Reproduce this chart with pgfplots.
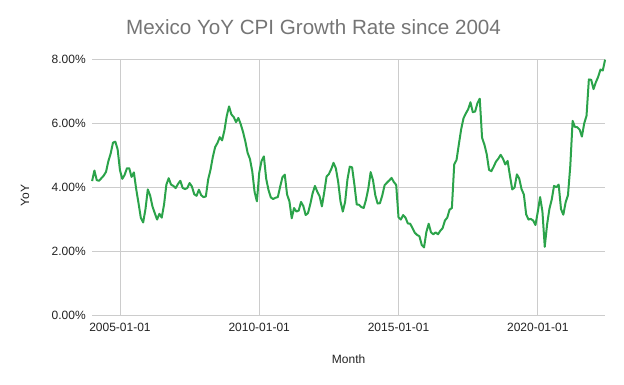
\documentclass[border=0pt]{standalone}
\usepackage{pgfplots}
\pgfplotsset{compat=1.18}
\usepackage{pgfplotstable}
\usepackage{fontspec}
\setmainfont{Liberation Sans}
\definecolor{linegreen}{RGB}{43,163,74}
\definecolor{gridgray}{RGB}{204,204,204}
\definecolor{basegray}{RGB}{120,120,120}
\definecolor{titlegray}{RGB}{117,117,117}
\definecolor{labelcol}{RGB}{34,34,34}

% month index (0 = 2004-01) and YoY CPI growth in percent
\pgfplotstableread{
m v
0 4.20
1 4.53
2 4.23
3 4.21
4 4.29
5 4.37
6 4.49
7 4.82
8 5.06
9 5.40
10 5.43
11 5.19
12 4.54
13 4.27
14 4.39
15 4.60
16 4.60
17 4.33
18 4.47
19 3.95
20 3.51
21 3.05
22 2.91
23 3.33
24 3.94
25 3.75
26 3.41
27 3.20
28 3.00
29 3.18
30 3.06
31 3.47
32 4.09
33 4.29
34 4.09
35 4.05
36 3.98
37 4.11
38 4.21
39 3.99
40 3.95
41 3.98
42 4.14
43 4.03
44 3.79
45 3.74
46 3.93
47 3.76
48 3.70
49 3.72
50 4.25
51 4.55
52 4.95
53 5.26
54 5.39
55 5.57
56 5.47
57 5.78
58 6.23
59 6.53
60 6.28
61 6.20
62 6.04
63 6.17
64 5.98
65 5.74
66 5.44
67 5.08
68 4.89
69 4.50
70 3.86
71 3.57
72 4.46
73 4.83
74 4.97
75 4.27
76 3.92
77 3.69
78 3.64
79 3.68
80 3.70
81 4.02
82 4.32
83 4.40
84 3.78
85 3.57
86 3.04
87 3.36
88 3.25
89 3.28
90 3.55
91 3.42
92 3.14
93 3.20
94 3.48
95 3.82
96 4.05
97 3.87
98 3.73
99 3.41
100 3.85
101 4.34
102 4.42
103 4.57
104 4.77
105 4.60
106 4.18
107 3.57
108 3.25
109 3.55
110 4.25
111 4.65
112 4.63
113 4.09
114 3.47
115 3.46
116 3.39
117 3.36
118 3.62
119 3.97
120 4.48
121 4.23
122 3.76
123 3.50
124 3.51
125 3.75
126 4.07
127 4.15
128 4.22
129 4.30
130 4.17
131 4.08
132 3.07
133 3.00
134 3.14
135 3.06
136 2.88
137 2.87
138 2.74
139 2.59
140 2.52
141 2.48
142 2.21
143 2.13
144 2.61
145 2.87
146 2.60
147 2.54
148 2.60
149 2.54
150 2.65
151 2.73
152 2.97
153 3.06
154 3.31
155 3.36
156 4.72
157 4.86
158 5.35
159 5.82
160 6.16
161 6.31
162 6.44
163 6.66
164 6.35
165 6.37
166 6.63
167 6.77
168 5.55
169 5.34
170 5.04
171 4.55
172 4.51
173 4.65
174 4.81
175 4.90
176 5.02
177 4.90
178 4.72
179 4.83
180 4.37
181 3.94
182 4.00
183 4.41
184 4.28
185 3.95
186 3.78
187 3.16
188 3.00
189 3.02
190 2.97
191 2.83
192 3.24
193 3.70
194 3.25
195 2.15
196 2.84
197 3.33
198 3.62
199 4.05
200 4.01
201 4.09
202 3.33
203 3.15
204 3.54
205 3.76
206 4.67
207 6.08
208 5.89
209 5.88
210 5.81
211 5.59
212 6.00
213 6.24
214 7.37
215 7.36
216 7.07
217 7.28
218 7.45
219 7.68
220 7.65
221 7.99
}\cpidata

\begin{document}
\begin{tikzpicture}
\path[use as bounding box] (0,0) rectangle (624bp,385bp);
\begin{axis}[
  scale only axis,
  width=513bp, height=256.4bp,
  at={(92.1bp,69.3bp)}, anchor=south west,
  xmin=0, xmax=221, ymin=0, ymax=8,
  clip=false,
  axis line style={draw=none},
  major tick length=0pt,
  xtick={12,72,132,192},
  xticklabels={2005-01-01,2010-01-01,2015-01-01,2020-01-01},
  ytick={2,4,6,8},
  yticklabels={2.00\%,4.00\%,6.00\%,8.00\%},
  extra y ticks={0},
  extra y tick labels={0.00\%},
  extra y tick style={grid style={draw=basegray, line width=1.6bp}},
  grid=major,
  major grid style={draw=gridgray, line width=0.9bp},
  ticklabel style={font=\fontsize{12bp}{14bp}\selectfont, text=labelcol, inner sep=0pt},
  xticklabel style={anchor=base, yshift=-15.3bp},
  yticklabel style={anchor=east, xshift=-6.2bp},
  xlabel={Month},
  xlabel style={at={(axis description cs:0.5,-0.1856)}, anchor=base, font=\fontsize{12bp}{14bp}\selectfont, text=labelcol, inner sep=0pt},
  ylabel={YoY},
  ylabel style={at={(axis description cs:-0.1306,0.468)}, anchor=center, rotate=0, font=\fontsize{12bp}{14bp}\selectfont, text=labelcol, inner sep=0pt},
  title={Mexico YoY CPI Growth Rate since 2004},
  title style={at={(axis description cs:0.4316,1.074)}, anchor=base, font=\fontsize{20.6bp}{24bp}\selectfont, text=titlegray, inner sep=0pt},
]
\addplot[linegreen, line width=2bp, line join=round, no markers] table[x=m, y=v] {\cpidata};
\end{axis}
\end{tikzpicture}
\end{document}
